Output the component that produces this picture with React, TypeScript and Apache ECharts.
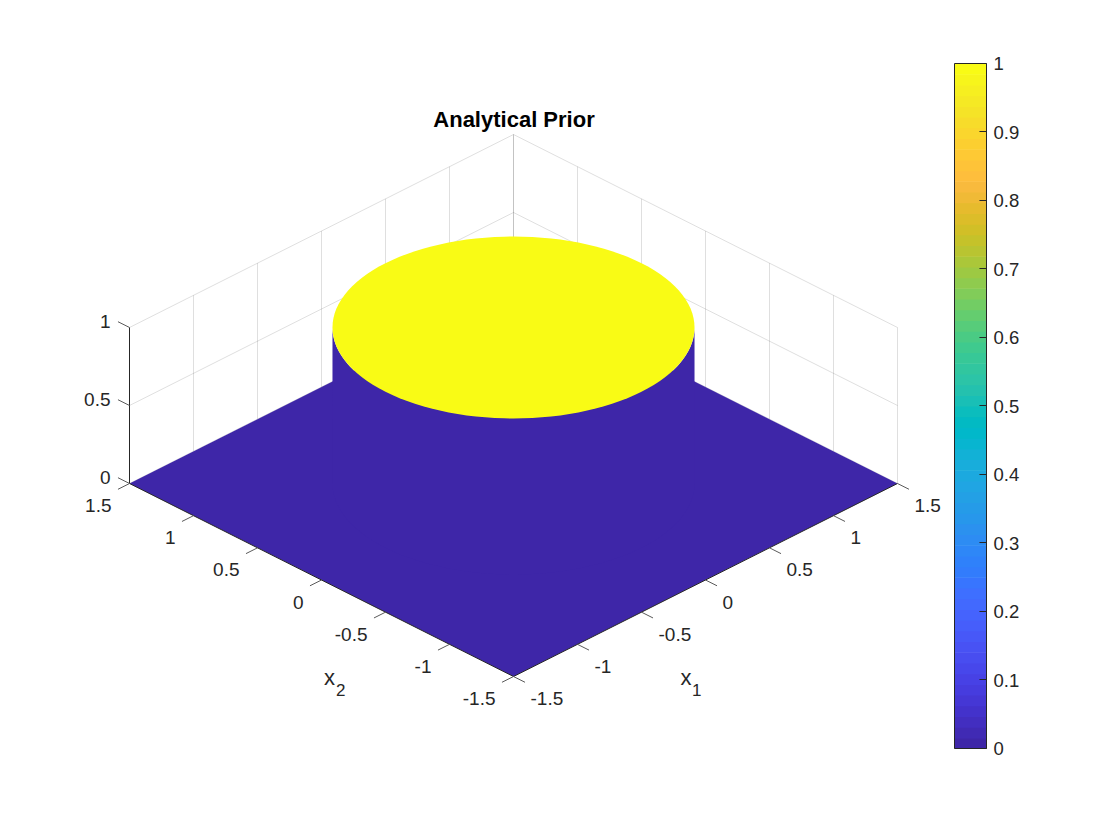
import React, { useEffect, useRef } from "react";
import * as echarts from "echarts";

const titleText = "Analytical Prior";
const x1Ticks = [-1.5, -1, -0.5, 0, 0.5, 1, 1.5];
const x2Ticks = [-1.5, -1, -0.5, 0, 0.5, 1, 1.5];
const zTicks = [0, 0.5, 1];
const colorbarTicks = [0, 0.1, 0.2, 0.3, 0.4, 0.5, 0.6, 0.7, 0.8, 0.9, 1];
const x1Labels = ["-1.5", "-1", "-0.5", "0", "0.5", "1", "1.5"];
const x2Labels = ["-1.5", "-1", "-0.5", "0", "0.5", "1", "1.5"];
const zLabels = ["0", "0.5", "1"];
const domainEdge = 1.5;
const priorRadius = 1;
const priorOutside = 0;
const priorInside = 1;

// MATLAB parula colormap, as shown in the colorbar
const parula: number[][] = [
  [0.2422, 0.1504, 0.6603], [0.2504, 0.165, 0.7076], [0.2578, 0.1818, 0.7511], [0.2647, 0.1978, 0.7952],
  [0.2706, 0.2147, 0.8364], [0.2751, 0.2342, 0.871], [0.2783, 0.2559, 0.8991], [0.2803, 0.2782, 0.9221],
  [0.2813, 0.3006, 0.9414], [0.281, 0.3228, 0.9579], [0.2795, 0.3447, 0.9717], [0.276, 0.3667, 0.9829],
  [0.2699, 0.3892, 0.9906], [0.2602, 0.4123, 0.9952], [0.244, 0.4358, 0.9988], [0.2206, 0.4603, 0.9973],
  [0.1963, 0.4847, 0.9892], [0.1834, 0.5074, 0.9798], [0.1786, 0.5289, 0.9682], [0.1764, 0.5499, 0.952],
  [0.1687, 0.5703, 0.9359], [0.154, 0.5902, 0.9218], [0.146, 0.6091, 0.9079], [0.138, 0.6276, 0.8973],
  [0.1248, 0.6459, 0.8883], [0.1113, 0.6635, 0.8763], [0.0952, 0.6798, 0.8598], [0.0689, 0.6948, 0.8394],
  [0.0297, 0.7082, 0.8163], [0.0036, 0.7203, 0.7917], [0.0067, 0.7312, 0.766], [0.0433, 0.7411, 0.7394],
  [0.0964, 0.75, 0.712], [0.1408, 0.7584, 0.6842], [0.1717, 0.767, 0.6554], [0.1938, 0.7758, 0.6251],
  [0.2161, 0.7843, 0.5923], [0.247, 0.7918, 0.5567], [0.2906, 0.7973, 0.5188], [0.3406, 0.8008, 0.4789],
  [0.3909, 0.8029, 0.4354], [0.4456, 0.8024, 0.3909], [0.5044, 0.7993, 0.348], [0.5616, 0.7942, 0.3045],
  [0.6174, 0.7876, 0.2612], [0.672, 0.7793, 0.2227], [0.7242, 0.7698, 0.191], [0.7738, 0.7598, 0.1646],
  [0.8203, 0.7498, 0.1535], [0.8634, 0.7406, 0.1596], [0.9035, 0.733, 0.1774], [0.9393, 0.7288, 0.21],
  [0.9728, 0.7289, 0.2394], [0.9956, 0.7434, 0.2371], [0.997, 0.7659, 0.2199], [0.9952, 0.7893, 0.2028],
  [0.9892, 0.8136, 0.1885], [0.9786, 0.8386, 0.1766], [0.9676, 0.8639, 0.1643], [0.961, 0.889, 0.1537],
  [0.9597, 0.9135, 0.1423], [0.9628, 0.9373, 0.1265], [0.9691, 0.9606, 0.1064], [0.9769, 0.9839, 0.0805],
];

const FONT = '"Liberation Sans", Arial, Helvetica, sans-serif';
const TEXT = "#262626";
const GRID = "rgba(38,38,38,0.15)";
const TICK = 0.09; // tick length in data units
const Z_SCALE = 2.425; // vertical screen units per unit of z

const colorOf = (value: number) => {
  const c = parula[Math.min(parula.length - 1, Math.floor(value * parula.length))];
  return `rgb(${c.map((v) => Math.round(v * 255)).join(",")})`;
};

// view(-45-like) projection of (x1, x2, z) into the hidden plane axes
const project = (api: any, x1: number, x2: number, z: number): number[] =>
  api.coord([x1 - x2, x1 + x2 + Z_SCALE * z]);

const e = domainEdge;
const segRows: number[][] = [];
// back walls: verticals
x1Ticks.forEach((t) => segRows.push([t, e, zTicks[0], t, e, zTicks[zTicks.length - 1]]));
x2Ticks.forEach((t) => segRows.push([e, t, zTicks[0], e, t, zTicks[zTicks.length - 1]]));
// back walls: horizontals
zTicks.forEach((z) => {
  segRows.push([-e, e, z, e, e, z]);
  segRows.push([e, -e, z, e, e, z]);
});

const axisRows: number[][] = [
  [-e, e, zTicks[0], -e, e, zTicks[zTicks.length - 1]],
  [-e, -e, 0, e, -e, 0],
  [-e, -e, 0, -e, e, 0],
];
x1Ticks.forEach((t) => axisRows.push([t, -e, 0, t, -e - TICK, 0]));
x2Ticks.forEach((t) => axisRows.push([-e, t, 0, -e - TICK, t, 0]));
zTicks.forEach((z) => axisRows.push([-e, e, z, -e, e + TICK, z]));

type Lab = { x1: number; x2: number; z: number; text: string; dx: number; dy: number; align: string; size?: number };
const labels: Lab[] = [
  ...x1Ticks.map((t, i) => ({ x1: t, x2: -e, z: 0, text: x1Labels[i], dx: 17, dy: 22, align: "left" })),
  ...x2Ticks.map((t, i) => ({ x1: -e, x2: t, z: 0, text: x2Labels[i], dx: -18, dy: 22, align: "right" })),
  ...zTicks.map((t, i) => ({ x1: -e, x2: e, z: t, text: zLabels[i], dx: -19, dy: -6, align: "right" })),
  { x1: -e, x2: -e, z: 0, text: "x", dx: 167, dy: 1, align: "left", size: 22 },
  { x1: -e, x2: -e, z: 0, text: "1", dx: 178.5, dy: 14, align: "left", size: 17 },
  { x1: -e, x2: -e, z: 0, text: "x", dx: -189.5, dy: 1, align: "left", size: 22 },
  { x1: -e, x2: -e, z: 0, text: "2", dx: -177.5, dy: 14, align: "left", size: 17 },
];

const lineSeries = (rows: number[][], stroke: (i: number) => string, width: number, z: number) => ({
  type: "custom" as const,
  xAxisIndex: 0,
  yAxisIndex: 0,
  silent: true,
  clip: false,
  z,
  data: rows,
  encode: { x: 0, y: 1 },
  renderItem: (params: any, api: any) => {
    const r = rows[params.dataIndex];
    const a = project(api, r[0], r[1], r[2]);
    const b = project(api, r[3], r[4], r[5]);
    return {
      type: "line",
      shape: { x1: a[0], y1: a[1], x2: b[0], y2: b[1] },
      style: { stroke: stroke(params.dataIndex), lineWidth: width, fill: null },
    };
  },
});

const surfaceRows = [["floor"], ["wall"], ["top"]];
const renderSurface = (params: any, api: any) => {
  const part = surfaceRows[params.dataIndex][0];
  const arc = (from: number, to: number, z: number) => {
    const pts: number[][] = [];
    const n = 120;
    for (let i = 0; i <= n; i++) {
      const t = ((from + ((to - from) * i) / n) * Math.PI) / 180;
      pts.push(project(api, priorRadius * Math.cos(t), priorRadius * Math.sin(t), z));
    }
    return pts;
  };
  let points: number[][];
  let fill = colorOf(priorOutside);
  if (part === "floor") {
    points = [
      project(api, -e, -e, priorOutside),
      project(api, e, -e, priorOutside),
      project(api, e, e, priorOutside),
      project(api, -e, e, priorOutside),
    ];
  } else if (part === "wall") {
    points = [...arc(135, 315, priorOutside), ...arc(315, 135, priorInside)];
  } else {
    points = arc(0, 360, priorInside);
    fill = colorOf(priorInside);
  }
  return { type: "polygon", shape: { points }, style: { fill, stroke: null } };
};

const renderLabel = (params: any, api: any) => {
  const l = labels[params.dataIndex];
  const p = project(api, l.x1, l.x2, l.z);
  return {
    type: "text",
    x: p[0] + l.dx,
    y: p[1] + l.dy,
    style: {
      text: l.text,
      fill: TEXT,
      font: `${l.size ?? 19}px ${FONT}`,
      align: l.align,
      verticalAlign: "middle",
    },
  };
};

const colorbarRows = parula.map((_, i) => [i / parula.length, (i + 1) / parula.length]);

const option: any = {
  animation: false,
  backgroundColor: "#fff",
  title: {
    text: titleText,
    left: 509,
    top: 103,
    textAlign: "center",
    textStyle: { fontFamily: FONT, fontSize: 22, fontWeight: "bold", color: "#000" },
  },
  grid: [
    { left: 129.5, top: 134.5, width: 768, height: 542 },
    { left: 954.5, top: 63.5, width: 32, height: 685 },
  ],
  xAxis: [
    { type: "value", gridIndex: 0, min: -2 * e, max: 2 * e, show: false },
    { type: "value", gridIndex: 1, min: 0, max: 1, show: false },
  ],
  yAxis: [
    { type: "value", gridIndex: 0, min: -2 * e, max: 2 * e + Z_SCALE, show: false },
    {
      type: "value",
      gridIndex: 1,
      position: "right",
      min: 0,
      max: 1,
      interval: 0.1,
      splitLine: { show: false },
      axisLine: { show: false },
      axisTick: { show: false },
      axisLabel: { margin: 7, color: TEXT, fontFamily: FONT, fontSize: 18.5 },
    },
  ],
  series: [
    lineSeries(segRows, () => GRID, 1, 1),
    {
      type: "custom",
      xAxisIndex: 0,
      yAxisIndex: 0,
      silent: true,
      clip: false,
      z: 2,
      data: surfaceRows.map((_, i) => [i, i]),
      encode: { x: 0, y: 1 },
      renderItem: renderSurface,
    },
    lineSeries(axisRows, (i) => (i < 3 ? TEXT : "#5a5a5a"), 1, 3),
    {
      type: "custom",
      xAxisIndex: 0,
      yAxisIndex: 0,
      silent: true,
      clip: false,
      z: 4,
      data: labels.map((_, i) => [i, i]),
      encode: { x: 0, y: 1 },
      renderItem: renderLabel,
    },
    {
      type: "custom",
      xAxisIndex: 1,
      yAxisIndex: 1,
      silent: true,
      clip: false,
      z: 2,
      data: colorbarRows,
      encode: { y: [0, 1] },
      renderItem: (params: any, api: any) => {
        const lo = api.coord([0, api.value(0)]);
        const hi = api.coord([1, api.value(1)]);
        return {
          type: "rect",
          shape: { x: lo[0], y: hi[1], width: hi[0] - lo[0], height: lo[1] - hi[1] + 0.6 },
          style: { fill: colorOf(api.value(0)), stroke: null },
        };
      },
    },
    {
      type: "custom",
      xAxisIndex: 1,
      yAxisIndex: 1,
      silent: true,
      clip: false,
      z: 5,
      data: colorbarTicks.map((t) => [0.78, t]),
      encode: { x: 0, y: 1 },
      renderItem: (params: any, api: any) => {
        const a = api.coord([api.value(0), api.value(1)]);
        const b = api.coord([1, api.value(1)]);
        const y = Math.floor(a[1] - 0.01) + 0.5;
        return {
          type: "line",
          shape: { x1: a[0], y1: y, x2: b[0], y2: y },
          style: { stroke: TEXT, lineWidth: 1, fill: null },
        };
      },
    },
    {
      type: "custom",
      xAxisIndex: 1,
      yAxisIndex: 1,
      silent: true,
      clip: false,
      z: 5,
      data: [[0, 1]],
      encode: { y: [0, 1] },
      renderItem: (_: any, api: any) => {
        const lo = api.coord([0, 0]);
        const hi = api.coord([1, 1]);
        return {
          type: "rect",
          shape: { x: lo[0], y: hi[1], width: hi[0] - lo[0], height: lo[1] - hi[1] },
          style: { fill: null, stroke: TEXT, lineWidth: 1 },
        };
      },
    },
  ],
};

export default function App() {
  const ref = useRef<HTMLDivElement>(null);
  useEffect(() => {
    const chart = echarts.init(ref.current!, undefined, { renderer: "svg" });
    chart.setOption(option);
    return () => chart.dispose();
  }, []);
  return <div ref={ref} style={{ position: "fixed", left: 0, top: 0, width: 1120, height: 840, background: "#fff" }} />;
}
